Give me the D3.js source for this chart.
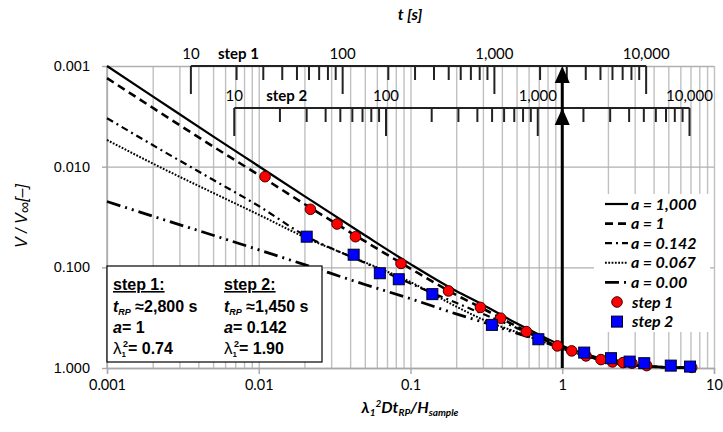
<!DOCTYPE html>
<html>
<head>
<meta charset="utf-8">
<script src="https://cdn.jsdelivr.net/npm/d3@7"></script>
<style>
  body { margin: 0; background: #fff; }
</style>
</head>
<body>
<svg class="viz" width="723" height="432"></svg>
<script>
// model curves, sampled along x = lambda^2 D t / H
var xCurve  = [0.001, 0.002, 0.005, 0.01, 0.02, 0.05, 0.1, 0.2, 0.3, 0.5, 0.7, 1, 1.5, 2, 3, 5, 7];
var yA1000  = [0.001, 0.002, 0.005, 0.0099, 0.0196, 0.048, 0.093, 0.172, 0.235, 0.36, 0.465, 0.60, 0.745, 0.84, 0.935, 0.985, 0.995];
var yA1     = [0.00132, 0.0026, 0.0063, 0.0121, 0.0235, 0.055, 0.103, 0.188, 0.257, 0.385, 0.49, 0.63, 0.77, 0.86, 0.94, 0.985, 0.995];
var yA0142  = [0.0033, 0.0061, 0.0135, 0.0246, 0.048, 0.090, 0.145, 0.225, 0.29, 0.40, 0.50, 0.63, 0.77, 0.86, 0.94, 0.985, 0.995];
var yA0067  = [0.00543, 0.0093, 0.0182, 0.030, 0.050, 0.089, 0.14, 0.245, 0.33, 0.44, 0.53, 0.645, 0.775, 0.862, 0.94, 0.985, 0.995];
var yA0     = [0.0222, 0.031, 0.048, 0.067, 0.094, 0.148, 0.205, 0.29, 0.35, 0.45, 0.53, 0.64, 0.775, 0.862, 0.94, 0.985, 0.995];

// measurements
var step1X = [0.0110, 0.0219, 0.0328, 0.0434, 0.0866, 0.178, 0.289, 0.393, 0.580, 0.928, 1.154, 1.434, 1.80, 2.144, 2.514, 2.88, 3.60, 7.13];
var step1Y = [0.01257, 0.0265, 0.0371, 0.0496, 0.0915, 0.1715, 0.250, 0.320, 0.435, 0.603, 0.676, 0.758, 0.825, 0.870, 0.884, 0.896, 0.947, 0.986];
var step2X = [0.0207, 0.0422, 0.0628, 0.0837, 0.1393, 0.344, 0.696, 1.395, 2.095, 2.78, 3.47, 5.19, 6.95];
var step2Y = [0.0496, 0.0749, 0.1145, 0.1313, 0.1846, 0.373, 0.518, 0.703, 0.799, 0.864, 0.896, 0.947, 0.968];

// tick labels
var xTickValues = [0.001, 0.01, 0.1, 1, 10];
var xTickLabels = ["0.001", "0.01", "0.1", "1", "10"];
var yTickValues = [0.001, 0.01, 0.1, 1];
var yTickLabels = ["0.001", "0.010", "0.100", "1.000"];
var tMajor = [10, 100, 1000, 10000];
var tMajorLabels = ["10", "100", "1,000", "10,000"];
var tRP1 = 2800, tRP2 = 1450;

var legendLabels = ["a = 1,000", "a = 1", "a = 0.142", "a = 0.067", "a = 0.00", "step 1", "step 2"];

var svg = d3.select(".viz"),
    margin = {top: 66, right: 9, bottom: 64, left: 107},
    width = svg.attr("width") - margin.left - margin.right,
    height = svg.attr("height") - margin.top - margin.bottom;

var x = d3.scaleLog().domain([0.001, 10]).range([margin.left, margin.left + width]);
var y = d3.scaleLog().domain([0.001, 1]).range([margin.top, margin.top + height]);

var calibri = "Lato, 'Open Sans', sans-serif";
var arial = "'Liberation Sans', Arial, sans-serif";

// minor grid values
var minorX = [];
[0.001, 0.01, 0.1, 1].forEach(function (d) {
  for (var k = 1; k < 10; k++) minorX.push(k * d);
});
minorX.push(10);

// vertical gridlines
svg.append("g")
  .attr("transform", "translate(0," + (margin.top + height) + ")")
  .call(d3.axisBottom(x).tickValues(minorX).tickSize(-height).tickFormat(""))
  .call(function (g) {
    g.select(".domain").remove();
    g.selectAll("line").attr("stroke", "#c0c0c0").attr("stroke-width", 1.4);
  });

// horizontal gridlines
svg.append("g")
  .attr("transform", "translate(" + margin.left + ",0)")
  .call(d3.axisLeft(y).tickValues(yTickValues).tickSize(-width).tickFormat(""))
  .call(function (g) {
    g.select(".domain").remove();
    g.selectAll("line").attr("stroke", "#b0b0b0").attr("stroke-width", 1.4);
  });

// left border
svg.append("line").attr("x1", x(0.001)).attr("x2", x(0.001)).attr("y1", y(0.001)).attr("y2", y(1))
  .attr("stroke", "#a8a8a8").attr("stroke-width", 1.4);

// bottom axis
svg.append("g")
  .attr("transform", "translate(0," + (margin.top + height) + ")")
  .call(d3.axisBottom(x).tickValues(xTickValues).tickSize(6).tickPadding(6)
    .tickFormat(function (d, i) { return xTickLabels[i]; }))
  .call(function (g) {
    g.select(".domain").attr("stroke", "#a8a8a8").attr("stroke-width", 1.4);
    g.selectAll("line").attr("stroke", "#a8a8a8").attr("stroke-width", 1.4);
    g.selectAll("text").attr("font-family", calibri).attr("font-size", "14.5px").attr("fill", "#000");
  });

// left axis labels
svg.append("g")
  .attr("transform", "translate(" + margin.left + ",0)")
  .call(d3.axisLeft(y).tickValues(yTickValues).tickSize(5).tickPadding(12)
    .tickFormat(function (d, i) { return yTickLabels[i]; }))
  .call(function (g) {
    g.select(".domain").remove();
    g.selectAll("line").attr("stroke", "#a8a8a8").attr("stroke-width", 1.4);
    g.selectAll("text").attr("font-family", arial).attr("font-size", "14.5px").attr("fill", "#000");
  });

// curves
var curves = [
  {y: yA1000, width: 2.2, dash: null},
  {y: yA1, width: 2.6, dash: "8,5"},
  {y: yA0142, width: 2.2, dash: "7,4,2,4"},
  {y: yA0067, width: 2, dash: "1.8,1.5"},
  {y: yA0, width: 2.8, dash: "14,5,2,5,2,5"}
];

var line = d3.line()
  .x(function (d) { return x(d[0]); })
  .y(function (d) { return y(d[1]); })
  .curve(d3.curveMonotoneX);

curves.forEach(function (c) {
  svg.append("path")
    .datum(xCurve.map(function (v, i) { return [v, c.y[i]]; }))
    .attr("d", line)
    .attr("fill", "none")
    .attr("stroke", "#000")
    .attr("stroke-width", c.width)
    .attr("stroke-dasharray", c.dash);
});

// time axes on top
function timeAxis(tRP, yLine, name, nameDx) {
  var g = svg.append("g");
  var ticks = [];
  [10, 100, 1000].forEach(function (d) {
    for (var k = 1; k < 10; k++) ticks.push(k * d);
  });
  ticks.push(10000);
  g.append("line")
    .attr("x1", x(10 / tRP)).attr("x2", x(10000 / tRP))
    .attr("y1", yLine).attr("y2", yLine)
    .attr("stroke", "#222").attr("stroke-width", 2);
  g.selectAll(".tk").data(ticks).enter().append("line")
    .attr("x1", function (d) { return x(d / tRP); })
    .attr("x2", function (d) { return x(d / tRP); })
    .attr("y1", yLine)
    .attr("y2", function (d) { return yLine + (tMajor.indexOf(d) >= 0 ? 28 : 14); })
    .attr("stroke", "#222").attr("stroke-width", 2);
  g.selectAll(".lb").data(tMajor).enter().append("text")
    .attr("x", function (d) { return x(d / tRP); })
    .attr("y", yLine - 7)
    .attr("text-anchor", "middle")
    .attr("font-family", calibri).attr("font-size", "15px")
    .text(function (d, i) { return tMajorLabels[i]; });
  g.append("text")
    .attr("x", x(10 / tRP) + nameDx)
    .attr("y", yLine - 7)
    .attr("font-family", calibri).attr("font-size", "15px").attr("font-weight", "bold")
    .text(name);
}
timeAxis(tRP1, y(0.001), "step 1", 27);
timeAxis(tRP2, y(0.001) + 42, "step 2", 32);

// arrow at x = 1
svg.append("line")
  .attr("x1", x(1)).attr("x2", x(1))
  .attr("y1", y(1)).attr("y2", y(0.001) + 10)
  .attr("stroke", "#000").attr("stroke-width", 3);
[y(0.001), y(0.001) + 42].forEach(function (yt) {
  svg.append("path")
    .attr("d", "M" + x(1) + "," + yt + "l-7.5,17h15z")
    .attr("fill", "#000");
});

// measurements
svg.selectAll(".p1").data(step1X).enter().append("circle")
  .attr("cx", function (d) { return x(d); })
  .attr("cy", function (d, i) { return y(step1Y[i]); })
  .attr("r", 5.3)
  .attr("fill", "#ff0000").attr("stroke", "#400").attr("stroke-width", 1);

svg.selectAll(".p2").data(step2X).enter().append("rect")
  .attr("x", function (d) { return x(d) - 5.5; })
  .attr("y", function (d, i) { return y(step2Y[i]) - 5.5; })
  .attr("width", 11).attr("height", 11)
  .attr("fill", "#0000ff").attr("stroke", "#002").attr("stroke-width", 1);

// legend
var lg = svg.append("g").attr("transform", "translate(594,194)");
lg.append("rect").attr("width", 116).attr("height", 138).attr("fill", "#fff");
legendLabels.forEach(function (lab, i) {
  var yy = 10 + i * 19.6;
  if (i < 5) {
    lg.append("line").attr("x1", 11).attr("x2", 34).attr("y1", yy).attr("y2", yy)
      .attr("stroke", "#000").attr("stroke-width", curves[i].width)
      .attr("stroke-dasharray", curves[i].dash);
  } else if (i === 5) {
    lg.append("circle").attr("cx", 23).attr("cy", yy).attr("r", 5.3)
      .attr("fill", "#ff0000").attr("stroke", "#400");
  } else {
    lg.append("rect").attr("x", 17.5).attr("y", yy - 5.5).attr("width", 11).attr("height", 11)
      .attr("fill", "#0000ff").attr("stroke", "#002");
  }
  lg.append("text").attr("x", i < 5 ? 37 : 38).attr("y", yy + 5.5)
    .attr("font-family", calibri).attr("font-size", "16px")
    .attr("font-weight", "bold").attr("font-style", "italic")
    .text(lab);
});

// parameter box
var box = svg.append("g").attr("transform", "translate(107,266)");
box.append("rect").attr("width", 215).attr("height", 96)
  .attr("fill", "#fff").attr("stroke", "#000").attr("stroke-width", 1.2);
function boxColumn(cx, head, trp, aval, lam) {
  box.append("text").attr("x", cx).attr("y", 24)
    .attr("font-family", arial).attr("font-size", "16px").attr("font-weight", "bold")
    .attr("text-decoration", "underline").text(head);
  var t = box.append("text").attr("x", cx).attr("y", 46)
    .attr("font-family", arial).attr("font-size", "16px").attr("font-weight", "bold");
  t.append("tspan").attr("font-style", "italic").text("t");
  t.append("tspan").attr("font-style", "italic").attr("font-size", "9px").attr("dy", 3).text("RP");
  t.append("tspan").attr("dy", -3).text(" \u2248" + trp + " s");
  var a = box.append("text").attr("x", cx).attr("y", 67)
    .attr("font-family", arial).attr("font-size", "16px").attr("font-weight", "bold");
  a.append("tspan").attr("font-style", "italic").text("a");
  a.append("tspan").text("= " + aval);
  var l = box.append("text").attr("x", cx).attr("y", 88)
    .attr("font-family", arial).attr("font-size", "16px").attr("font-weight", "bold");
  l.append("tspan").attr("font-weight", "normal").attr("font-size", "17px").text("\u03bb");
  l.append("tspan").attr("font-size", "8px").attr("dy", 3).text("1");
  l.append("tspan").attr("font-size", "9px").attr("dy", -10).attr("dx", -3).text("2");
  l.append("tspan").attr("dy", 7).text("= " + lam);
}
boxColumn(6, "step 1:", "2,800", "1", "0.74");
boxColumn(117, "step 2:", "1,450", "0.142", "1.90");

// axis titles
svg.append("text")
  .attr("x", 410).attr("y", 20)
  .attr("text-anchor", "middle")
  .attr("font-family", calibri).attr("font-size", "16px")
  .attr("font-weight", "bold").attr("font-style", "italic")
  .text("t [s]");

var xt = svg.append("text")
  .attr("x", 410).attr("y", 413)
  .attr("text-anchor", "middle")
  .attr("font-family", calibri).attr("font-size", "16px")
  .attr("font-weight", "bold").attr("font-style", "italic");
xt.append("tspan").text("\u03bb");
xt.append("tspan").attr("font-size", "10px").attr("dy", 3).text("1");
xt.append("tspan").attr("font-size", "10px").attr("dy", -9).text("2");
xt.append("tspan").attr("dy", 6).text("Dt");
xt.append("tspan").attr("font-size", "10px").attr("dy", 3).text("RP");
xt.append("tspan").attr("dy", -3).text("/H");
xt.append("tspan").attr("font-size", "10px").attr("dy", 3).text("sample");

var yt = svg.append("text")
  .attr("transform", "translate(27," + (margin.top + 150) + ") rotate(-90)")
  .attr("text-anchor", "middle")
  .attr("font-family", arial).attr("font-size", "16px").attr("font-style", "italic");
yt.append("tspan").text("V / V");
yt.append("tspan").attr("dy", 3).text("\u221e");
yt.append("tspan").attr("dy", -3).text("[\u2013]");
</script>
</body>
</html>
